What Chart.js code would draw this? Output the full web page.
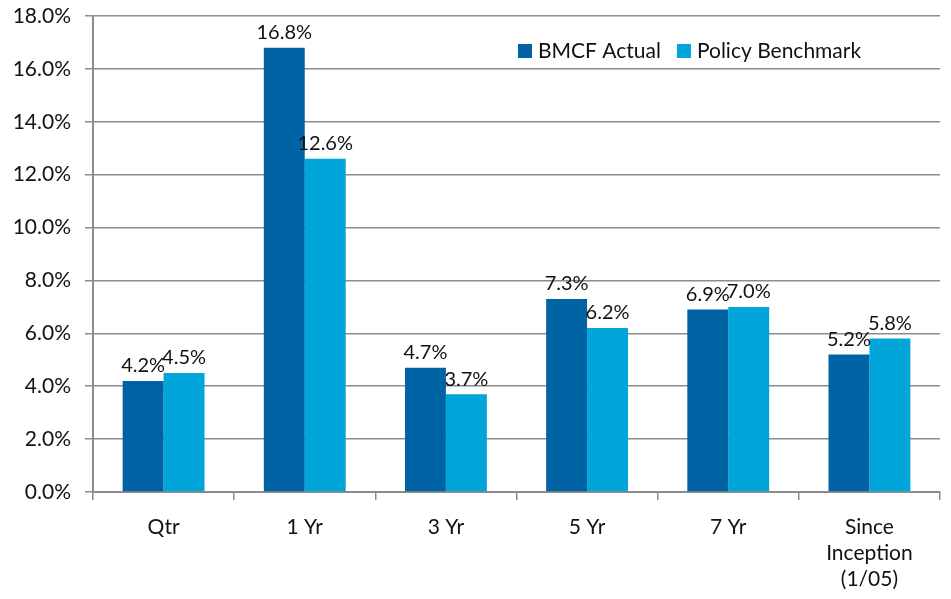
<!DOCTYPE html>
<html>
<head>
<meta charset="utf-8">
<script src="https://cdn.jsdelivr.net/npm/chart.js@4"></script>
<style>
  html, body { margin: 0; padding: 0; background: #fff; }
  #wrap { width: 951px; height: 599px; }
</style>
</head>
<body>
<div id="wrap"><canvas id="returnsChart" width="951" height="599"></canvas></div>
<script>
const categories = ['Qtr', '1 Yr', '3 Yr', '5 Yr', '7 Yr', ['Since', 'Inception', '(1/05)']];
const bmcfActual = [4.2, 16.8, 4.7, 7.3, 6.9, 5.2];
const policyBenchmark = [4.5, 12.6, 3.7, 6.2, 7.0, 5.8];
const seriesNames = ['BMCF Actual', 'Policy Benchmark'];
const yTicks = [0, 2, 4, 6, 8, 10, 12, 14, 16, 18];

const FONT = 'Lato, "Open Sans", sans-serif';

// value labels above each bar
const barLabels = {
    id: 'barLabels',
    afterDatasetsDraw(chart) {
        const c = chart.ctx;
        c.save();
        c.font = '20px ' + FONT;
        c.fillStyle = '#111';
        c.textAlign = 'center';
        c.textBaseline = 'bottom';
        chart.data.datasets.forEach((ds, i) => {
            chart.getDatasetMeta(i).data.forEach((bar, j) => {
                c.fillText(ds.data[j].toFixed(1) + '%', bar.x, bar.y - 5);
            });
        });
        c.restore();
    }
};

// legend drawn inside the plot area, top right
const innerLegend = {
    id: 'innerLegend',
    afterDraw(chart) {
        const c = chart.ctx;
        c.save();
        c.font = '21px ' + FONT;
        c.textBaseline = 'middle';
        let x = 518;
        const y = 51;
        chart.data.datasets.forEach(ds => {
            c.fillStyle = ds.backgroundColor;
            c.fillRect(x, y - 7, 14, 14);
            c.fillStyle = '#111';
            c.fillText(ds.label, x + 20, y);
            x += 20 + c.measureText(ds.label).width + 16;
        });
        c.restore();
    }
};

new Chart(document.getElementById('returnsChart'), {
    type: 'bar',
    data: {
        labels: categories,
        datasets: [{
            label: seriesNames[0],
            data: bmcfActual,
            backgroundColor: '#0063A3',
            borderWidth: 0
        }, {
            label: seriesNames[1],
            data: policyBenchmark,
            backgroundColor: '#00A5DA',
            borderWidth: 0
        }]
    },
    options: {
        responsive: false,
        animation: false,
        layout: { padding: { top: 16, right: 11, left: 0, bottom: 0 } },
        datasets: { bar: { categoryPercentage: 0.58, barPercentage: 1.0 } },
        plugins: {
            legend: { display: false },
            tooltip: { enabled: false }
        },
        scales: {
            x: {
                offset: true,
                afterFit(axis) { axis.height = 107; },
                grid: {
                    offset: true,
                    drawOnChartArea: false,
                    drawTicks: true,
                    tickLength: 8,
                    color: '#8c8c8c',
                    lineWidth: 1.5
                },
                border: { color: '#8c8c8c', width: 2 },
                ticks: {
                    color: '#111',
                    font: { family: FONT, size: 21, lineHeight: 1.25 },
                    padding: 14,
                    maxRotation: 0
                }
            },
            y: {
                min: 0,
                max: 18,
                afterFit(axis) {
                    axis.width = 93;
                    axis.paddingTop = 0;
                    axis.paddingBottom = 0;
                },
                afterBuildTicks(axis) {
                    axis.ticks = yTicks.map(v => ({ value: v }));
                },
                grid: {
                    color: '#8c8c8c',
                    lineWidth: 1.5,
                    tickLength: 8
                },
                border: { color: '#8c8c8c', width: 2 },
                ticks: {
                    color: '#111',
                    font: { family: FONT, size: 21 },
                    padding: 14,
                    callback: v => v.toFixed(1) + '%'
                }
            }
        }
    },
    plugins: [barLabels, innerLegend]
});
</script>
</body>
</html>
